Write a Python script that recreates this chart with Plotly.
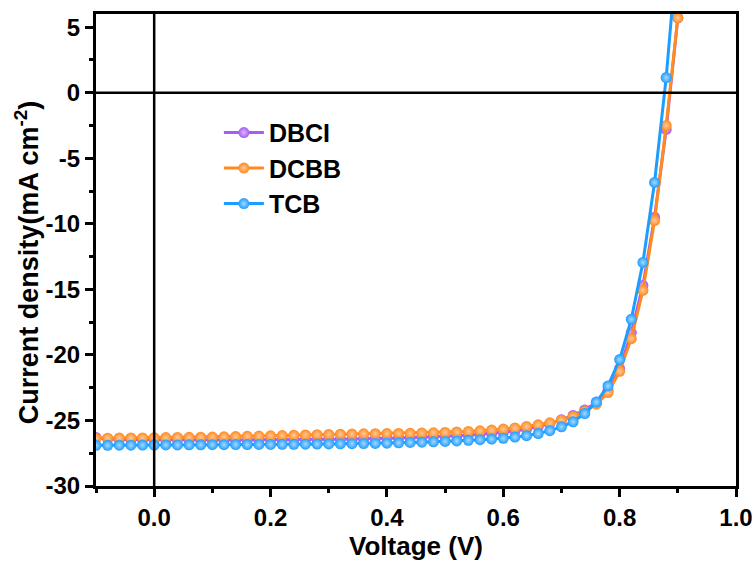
import plotly.graph_objects as go

voltage = [-0.10, -0.08, -0.06, -0.04, -0.02, 0.00, 0.02, 0.04, 0.06, 0.08,
           0.10, 0.12, 0.14, 0.16, 0.18, 0.20, 0.22, 0.24, 0.26, 0.28,
           0.30, 0.32, 0.34, 0.36, 0.38, 0.40, 0.42, 0.44, 0.46, 0.48,
           0.50, 0.52, 0.54, 0.56, 0.58, 0.60, 0.62, 0.64, 0.66, 0.68,
           0.70, 0.72, 0.74, 0.76, 0.78, 0.80, 0.82, 0.84, 0.86, 0.88, 0.90]

dbci = [-26.30, -26.42, -26.45, -26.46, -26.47, -26.47, -26.48, -26.48, -26.48, -26.49,
        -26.49, -26.49, -26.49, -26.49, -26.48, -26.48, -26.47, -26.47, -26.46, -26.45,
        -26.44, -26.43, -26.42, -26.40, -26.38, -26.36, -26.34, -26.31, -26.28, -26.25,
        -26.21, -26.17, -26.12, -26.06, -25.99, -25.91, -25.80, -25.66, -25.48, -25.25,
        -24.95, -24.62, -24.20, -23.62, -22.70, -21.05, -18.30, -14.70, -9.50, -2.80, 5.70]

dcbb = [-26.36, -26.35, -26.34, -26.34, -26.33, -26.32, -26.31, -26.30, -26.29, -26.28,
        -26.27, -26.25, -26.23, -26.21, -26.19, -26.17, -26.15, -26.13, -26.11, -26.09,
        -26.07, -26.05, -26.04, -26.02, -26.01, -26.00, -25.99, -25.98, -25.96, -25.94,
        -25.91, -25.88, -25.84, -25.79, -25.73, -25.66, -25.57, -25.46, -25.33, -25.18,
        -24.98, -24.70, -24.30, -23.76, -22.87, -21.25, -18.76, -15.08, -9.75, -2.50, 5.70]

tcb = [-26.90, -26.90, -26.89, -26.89, -26.88, -26.88, -26.87, -26.87, -26.86, -26.86,
       -26.85, -26.85, -26.84, -26.84, -26.83, -26.83, -26.82, -26.82, -26.81, -26.80,
       -26.79, -26.78, -26.77, -26.76, -26.75, -26.73, -26.71, -26.68, -26.66, -26.63,
       -26.60, -26.56, -26.52, -26.47, -26.42, -26.36, -26.27, -26.16, -26.00, -25.78,
       -25.49, -25.10, -24.47, -23.60, -22.37, -20.36, -17.29, -12.95, -6.85, 1.15, 11.50]

series_names = ["DBCI", "DCBB", "TCB"]
series_colors = ["#A75CF2", "#FF8A1E", "#1C9DFF"]
series_tints = ["#D9B8FA", "#FFC99A", "#A6D8FF"]

x_tickvals = [0.0, 0.2, 0.4, 0.6, 0.8, 1.0]
x_ticktext = ["0.0", "0.2", "0.4", "0.6", "0.8", "1.0"]
y_tickvals = [-30, -25, -20, -15, -10, -5, 0, 5]
y_ticktext = ["-30", "-25", "-20", "-15", "-10", "-5", "0", "5"]

FONT = "Arial, 'Liberation Sans', sans-serif"

fig = go.Figure()
for name, ys, col, tint in zip(series_names, [dbci, dcbb, tcb], series_colors, series_tints):
    fig.add_trace(go.Scatter(
        x=voltage, y=ys, name=name, mode="lines+markers",
        line=dict(color=col, width=3),
        marker=dict(symbol="circle", size=11, color=col,
                    line=dict(width=0),
                    gradient=dict(type="radial", color=tint)),
        cliponaxis=True,
    ))

# reference lines at V=0 and J=0
fig.add_shape(type="line", xref="x", yref="paper", x0=0, x1=0, y0=0, y1=1,
              line=dict(color="black", width=2.5), layer="above")
fig.add_shape(type="line", xref="paper", yref="y", x0=0, x1=1, y0=0, y1=0,
              line=dict(color="black", width=2.5), layer="above")

axis_common = dict(
    showgrid=False, zeroline=False, automargin=False,
    showline=True, linecolor="black", linewidth=3, mirror=True,
    ticks="outside", ticklen=8, tickwidth=2.5, tickcolor="black",
    tickfont=dict(family=FONT, size=24, color="black", weight="bold"),
)

fig.update_xaxes(
    range=[-0.1, 1.0], tickmode="array", tickvals=x_tickvals, ticktext=x_ticktext,
    minor=dict(ticks="outside", ticklen=4, tickwidth=2.5, tickcolor="black", dtick=0.1, tick0=0),
    title=dict(text="<b>Voltage (V)</b>", font=dict(family=FONT, size=26, color="black"), standoff=8),
    **axis_common,
)
fig.update_yaxes(
    range=[-30, 6], tickmode="array", tickvals=y_tickvals, ticktext=y_ticktext,
    minor=dict(ticks="outside", ticklen=4, tickwidth=2.5, tickcolor="black", dtick=2.5, tick0=0),
    **axis_common,
)

# y-axis title as a rotated annotation so its position matches the reference
fig.add_annotation(
    text="<b>Current density(mA cm<sup>-2</sup>)</b>",
    xref="paper", yref="paper", x=-0.108, y=0.474,
    xanchor="center", yanchor="middle", textangle=-90, showarrow=False,
    font=dict(family=FONT, size=27, color="black"),
)

fig.update_layout(
    width=756, height=565,
    margin=dict(l=96, r=20, t=14, b=79),
    paper_bgcolor="white", plot_bgcolor="white",
    showlegend=True,
    legend=dict(x=0.192, y=0.797, xanchor="left", yanchor="top",
                bgcolor="rgba(0,0,0,0)", borderwidth=0,
                font=dict(family=FONT, size=25, color="black", weight="bold"),
                itemwidth=40, tracegroupgap=0),
)

fig.write_html("out.html")
